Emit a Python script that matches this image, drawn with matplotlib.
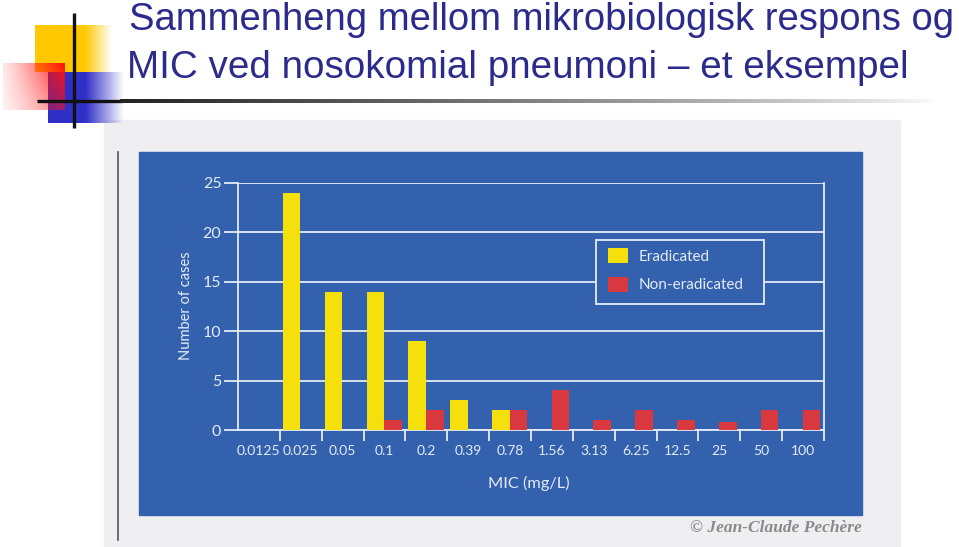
import numpy as np
import matplotlib
matplotlib.use('Agg')
import matplotlib.pyplot as plt
from matplotlib.patches import Rectangle, Patch
from matplotlib.colors import to_rgb

# data
mic = ['0.0125', '0.025', '0.05', '0.1', '0.2', '0.39', '0.78',
       '1.56', '3.13', '6.25', '12.5', '25', '50', '100']
eradicated = [0, 24, 14, 14, 9, 3, 2, 0, 0, 0, 0, 0, 0, 0]
non_eradicated = [0, 0, 0, 1, 2, 0, 2, 4, 1, 2, 1, 0.8, 2, 2]

title_1 = "Sammenheng mellom mikrobiologisk respons og"
title_2 = "MIC ved nosokomial pneumoni \u2013 et eksempel"

W, H = 959, 547
panel_c = '#3361ad'
line_c = '#e4ebf6'
yellow = '#f6e00c'
red = '#d9393e'


def gradient(ax, x0, x1, y0, y1, color, alpha, z):
    # alpha is a 2d array (rows = y from top, cols = x from left)
    rgb = to_rgb(color)
    img = np.zeros(alpha.shape + (4,))
    img[..., :3] = rgb
    img[..., 3] = alpha
    ax.imshow(img, extent=(x0, x1, y1, y0), aspect='auto',
              interpolation='bilinear', zorder=z)


fig = plt.figure(figsize=(W / 100, H / 100), dpi=100)
fig.patch.set_facecolor('white')

# background layer in pixel coordinates
bg = fig.add_axes([0, 0, 1, 1])
bg.set_xlim(0, W)
bg.set_ylim(H, 0)
bg.axis('off')

# logo
xs = np.linspace(0, 1, 200)
a = np.clip((1 - xs) / 0.35, 0, 1)[None, :].repeat(2, 0)
gradient(bg, 35, 112, 25, 72, '#ffc800', a, 1)
a = np.clip((1 - xs) / 0.5, 0, 1)[None, :].repeat(2, 0)
gradient(bg, 48, 124, 72, 123, '#3030c8', a, 2)
ys = np.linspace(0, 1, 60)[:, None]
a = np.clip(0.1 + 0.9 * xs[None, :] ** 1.2, 0, 1) * (1 - 0.45 * ys)
gradient(bg, 3, 65, 63, 110, '#ff1010', a, 3)
bg.plot([74, 74], [13, 128], color='#111111', lw=2.4, zorder=4,
        solid_capstyle='butt')
bg.plot([37, 122], [101, 101], color='#111111', lw=2.4, zorder=4,
        solid_capstyle='butt')

# underline of the title
a = np.clip(1 - xs, 0, 1)[None, :].repeat(2, 0) ** 0.8
gradient(bg, 120, 940, 99, 103, '#222222', a, 4)

bg.text(129, 30, title_1, fontsize=27.5, color='#2b2b8c',
        family='Liberation Sans', va='baseline', zorder=5)
bg.text(127, 78, title_2, fontsize=27.8, color='#2b2b8c',
        family='Liberation Sans', va='baseline', zorder=5)

# scanned page and blue panel
bg.add_patch(Rectangle((104, 120), 796, 430, color='#efeff1', zorder=1))
bg.add_patch(Rectangle((139, 152), 723, 363, color=panel_c, zorder=2))
bg.plot([118, 118], [152, 540], color='#555555', lw=1.2, zorder=3)
bg.text(862, 528, "\u00a9 Jean-Claude Pech\u00e8re", fontsize=12.5,
        color='#8a8a8a', family='Liberation Serif', style='italic',
        weight='bold', ha='right', va='center', zorder=3)

# the chart itself
ax = fig.add_axes([238 / W, 1 - 430 / H, 586 / W, 247 / H])
ax.patch.set_visible(False)

idx = np.arange(len(mic))
ax.bar(idx + 0.07, eradicated, width=0.42, align='edge', color=yellow,
       zorder=3, label='Eradicated')
ax.bar(idx + 0.49, non_eradicated, width=0.42, align='edge', color=red,
       zorder=3, label='Non-eradicated')

ax.set_xlim(0, len(mic))
ax.set_ylim(0, 25)
ax.set_yticks(range(0, 26, 5))
ax.yaxis.grid(True, color=line_c, lw=1.3)
ax.set_axisbelow(True)

for side in ['left', 'right', 'bottom']:
    ax.spines[side].set_color(line_c)
    ax.spines[side].set_linewidth(1.3)
ax.spines['top'].set_visible(False)

ax.set_xticks(idx[1:].tolist() + [len(mic)])
ax.set_xticklabels([])
ax.set_xticks(idx + 0.5, minor=True)
ax.set_xticklabels(mic, minor=True)
ax.tick_params(axis='x', which='major', direction='out', length=8,
               width=1.3, color=line_c)
ax.tick_params(axis='x', which='minor', length=0, pad=11,
               labelsize=10, labelcolor=line_c)
ax.tick_params(axis='y', direction='out', length=10, width=1.3,
               color=line_c, labelsize=11.5, labelcolor=line_c, pad=2)
for lab in ax.get_xticklabels(minor=True) + ax.get_yticklabels():
    lab.set_family('Lato')

fig.text(529 / W, 1 - 483 / H, "MIC (mg/L)", ha='center', va='center',
         color=line_c, fontsize=11.8, family='Lato')
fig.text(186 / W, 1 - 306 / H, "Number of cases", ha='center', va='center',
         rotation=90, color=line_c, fontsize=10.5, family='Lato')

# legend box drawn by hand so it can sit exactly where the original has it
ax.add_patch(Rectangle((596 / W, 1 - 304 / H), 168 / W, 64 / H,
                       transform=fig.transFigure, facecolor=panel_c,
                       edgecolor=line_c, lw=1.3, zorder=4, clip_on=False))
leg = ax.legend(handles=[Patch(facecolor=yellow, label='Eradicated'),
                         Patch(facecolor=red, label='Non-eradicated')],
                loc='upper left',
                bbox_to_anchor=(600 / W, 1 - 304 / H, 164 / W, 64 / H),
                bbox_transform=fig.transFigure, frameon=False,
                labelcolor=line_c, handlelength=1.3,
                handleheight=1.1, labelspacing=0.85, borderpad=0.55,
                handletextpad=0.7, borderaxespad=0,
                prop={'family': 'Lato', 'size': 11})
leg.set_zorder(5)

fig.savefig('out.png', dpi=100)
